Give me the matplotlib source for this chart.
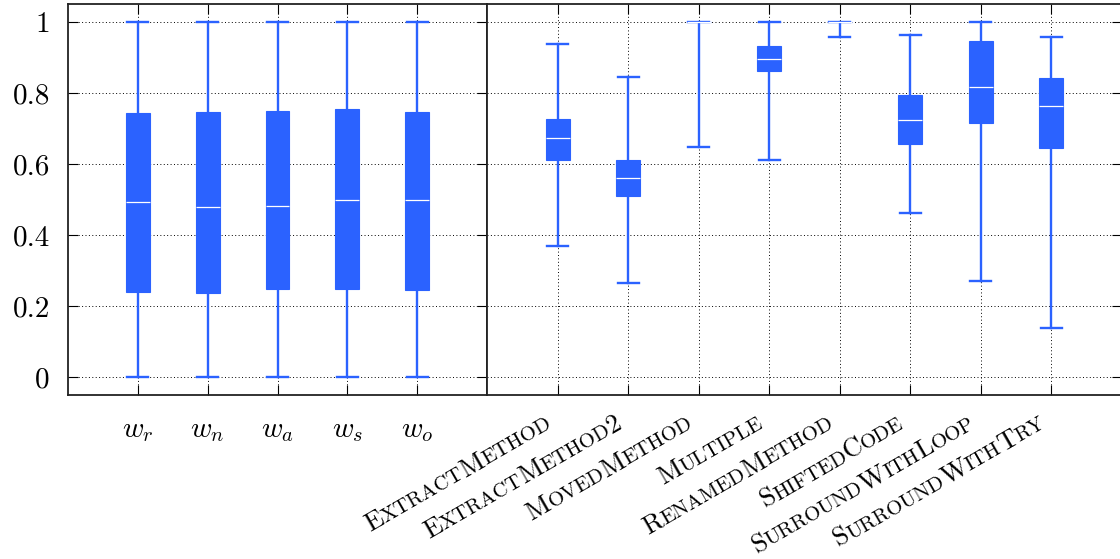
import numpy as np
import matplotlib
matplotlib.use("Agg")
import matplotlib.pyplot as plt
import matplotlib.transforms as mtransforms
from matplotlib.textpath import TextToPath
from matplotlib.font_manager import FontProperties

plt.rcParams['font.family']='cmr10'
plt.rcParams['mathtext.fontset']='cm'
plt.rcParams['axes.formatter.use_mathtext']=True

# left panel: weights
w_labels=[r"$w_r$", r"$w_n$", r"$w_a$", r"$w_s$", r"$w_o$"]
w_low=[0.0, 0.0, 0.0, 0.0, 0.0]
w_q1=[0.240, 0.237, 0.248, 0.248, 0.245]
w_med=[0.494, 0.480, 0.482, 0.498, 0.499]
w_q3=[0.744, 0.747, 0.748, 0.755, 0.745]
w_high=[1.0, 1.0, 1.0, 1.0, 1.0]

# right panel: refactoring kinds
r_labels=["ExtractMethod", "ExtractMethod2", "MovedMethod", "Multiple",
	"RenamedMethod", "ShiftedCode", "SurroundWithLoop", "SurroundWithTry"]
r_low=[0.370, 0.266, 0.647, 0.611, 0.956, 0.461, 0.272, 0.138]
r_q1=[0.612, 0.510, 1.0, 0.862, 1.0, 0.657, 0.715, 0.646]
r_med=[0.673, 0.561, 1.0, 0.894, 1.0, 0.724, 0.817, 0.764]
r_q3=[0.727, 0.611, 1.0, 0.931, 1.0, 0.795, 0.945, 0.842]
r_high=[0.938, 0.846, 1.0, 1.0, 1.0, 0.963, 1.0, 0.958]

BLUE="#2B62FF"
FS=21
FSL=19.2
SC=0.78
t2p=TextToPath()

def stats(low, q1, med, q3, high):
	return [dict(whislo=a, q1=b, med=c, q3=d, whishi=e) for a, b, c, d, e in zip(low, q1, med, q3, high)]

def draw(ax, st):
	n=len(st)
	ax.bxp(st, positions=np.arange(1, n+1), widths=0.34, capwidths=0.3, patch_artist=True,
		showfliers=False, manage_ticks=False,
		boxprops=dict(facecolor=BLUE, edgecolor=BLUE, linewidth=0.8),
		whiskerprops=dict(color=BLUE, linewidth=1.7),
		capprops=dict(color=BLUE, linewidth=1.7),
		medianprops=dict(color="white", linewidth=0.9))
	ax.set_xlim(0, n+1)
	ax.set_ylim(-0.05, 1.05)
	ax.set_xticks(np.arange(1, n+1))
	ax.set_yticks([0, 0.2, 0.4, 0.6, 0.8, 1])
	ax.grid(True, color="black", linestyle=(0, (1, 2.5)), linewidth=0.7)
	ax.set_axisbelow(True)
	for s in ax.spines.values():
		s.set_linewidth(1.3)
		s.set_color("#222222")
	ax.tick_params(direction="in", length=7, width=0.8, top=True, right=True)

def runs(s):
	# small caps: lowercase letters become smaller capitals
	out=[]
	for ch in s:
		small=ch.islower()
		c=ch.upper()
		if out and out[-1][1]==small:
			out[-1][0]+=c
		else:
			out.append([c, small])
	return out

def smallcaps(ax, x, s, angle=30, dx=-3.6, dy=-23):
	pieces=runs(s)
	widths=[]
	for txt, small in pieces:
		fp=FontProperties(family="cmr10", size=FSL*(SC if small else 1))
		w, h, d=t2p.get_text_width_height_descent(txt, fp, ismath=False)
		widths.append(w)
	c, sn=np.cos(np.radians(angle)), np.sin(np.radians(angle))
	pos=-sum(widths)
	for (txt, small), w in zip(pieces, widths):
		tr=mtransforms.offset_copy(ax.get_xaxis_transform(), fig=ax.figure,
			x=dx+pos*c, y=dy+pos*sn, units="points")
		ax.text(x, 0, txt, transform=tr, rotation=angle, rotation_mode="anchor",
			ha="left", va="baseline", fontsize=FSL*(SC if small else 1), family="cmr10")
		pos+=w

fig=plt.figure(figsize=(11.2, 5.59), dpi=100)
ax1=fig.add_axes([68/1120, 1-395/559, (487-68)/1120, (395-4)/559])
ax2=fig.add_axes([487/1120, 1-395/559, (1122-487)/1120, (395-4)/559])

draw(ax1, stats(w_low, w_q1, w_med, w_q3, w_high))
draw(ax2, stats(r_low, r_q1, r_med, r_q3, r_high))

ax1.set_yticklabels(["0", "0.2", "0.4", "0.6", "0.8", "1"], fontsize=FS)
ax1.tick_params(axis="y", pad=13)
ax1.set_xticklabels(w_labels, fontsize=FS)
ax1.tick_params(axis="x", pad=16)

ax2.tick_params(axis="y", left=False, labelleft=False)
ax2.set_xticklabels([])
for i, lbl in enumerate(r_labels):
	smallcaps(ax2, i+1, lbl)

plt.savefig("out.png", dpi=100)
